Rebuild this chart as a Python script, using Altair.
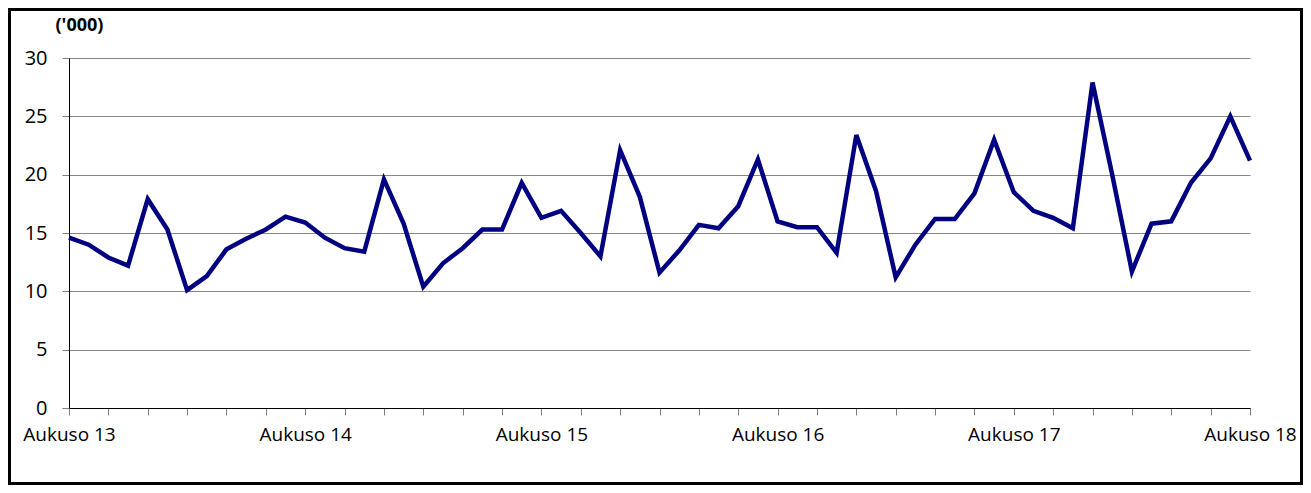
import altair as alt
import pandas as pd
import json

# Monthly values ('000), Aug 2013 .. Aug 2018
values = [14.6, 14.0, 12.9, 12.2, 17.9, 15.3, 10.1, 11.3, 13.6, 14.5,
          15.3, 16.4, 15.9, 14.6, 13.7, 13.4, 19.6, 15.8, 10.4, 12.4,
          13.7, 15.3, 15.3, 19.3, 16.3, 16.9, 15.0, 13.0, 22.1, 18.1,
          11.6, 13.5, 15.7, 15.4, 17.3, 21.3, 16.0, 15.5, 15.5, 13.3,
          23.4, 18.6, 11.2, 14.0, 16.2, 16.2, 18.4, 23.0, 18.5, 16.9,
          16.3, 15.4, 27.9, 20.0, 11.7, 15.8, 16.0, 19.3, 21.4, 25.0,
          21.2]
month_index = list(range(len(values)))
x_tick_labels = ["Aukuso 13", "Aukuso 14", "Aukuso 15", "Aukuso 16", "Aukuso 17", "Aukuso 18"]
x_tick_values = list(range(0, 61, 2))
y_tick_values = [0, 5, 10, 15, 20, 25, 30]
y_title = "('000)"

df = pd.DataFrame({"m": month_index, "v": values})

FONT = "Open Sans"
W, H = 1181, 350
PAD_L, PAD_T = 61, 50
TOT_W, TOT_H = 1295, 477

label_expr = ("datum.value % 12 == 0 ? " + json.dumps(x_tick_labels)
              + "[datum.value / 12] : ''")

line = alt.Chart(df).mark_line(color="#000080", strokeWidth=4.5, strokeJoin="miter").encode(
    x=alt.X("m:Q",
            scale=alt.Scale(domain=[0, 60], nice=False, zero=False),
            axis=alt.Axis(values=x_tick_values, labelExpr=label_expr, title=None,
                          grid=False, domainColor="#000000", domainWidth=1,
                          tickColor="#808080", tickSize=7, tickWidth=1,
                          labelFont=FONT, labelFontSize=19, labelColor="#000000",
                          labelPadding=10, labelOverlap=False, labelFlush=False)),
    y=alt.Y("v:Q",
            scale=alt.Scale(domain=[0, 30], nice=False),
            axis=alt.Axis(values=y_tick_values, title=y_title, titleAngle=0,
                          titleX=-14, titleY=-28, titleAlign="left",
                          titleBaseline="alphabetic", titleFont=FONT,
                          titleFontSize=18, titleFontWeight="bold", titleColor="#000000",
                          grid=True, gridColor="#868686", gridWidth=1,
                          domainColor="#000000", domainWidth=1,
                          tickColor="#808080", tickSize=7, tickWidth=1,
                          labelFont=FONT, labelFontSize=20, labelColor="#000000",
                          labelPadding=15)),
)

border = alt.Chart(alt.Data(values=[{"b": 1}])).mark_rect(
    fill=None, stroke="#000000", strokeWidth=3, clip=False
).encode(
    x=alt.value(-PAD_L + 1.5), x2=alt.value(TOT_W - PAD_L - 1.5),
    y=alt.value(-PAD_T + 1.5), y2=alt.value(TOT_H - PAD_T - 1.5),
)

chart = alt.layer(line, border).properties(
    width=W, height=H,
    autosize=alt.AutoSizeParams(type="none"),
    padding={"left": PAD_L, "top": PAD_T, "right": TOT_W - PAD_L - W, "bottom": TOT_H - PAD_T - H},
    background="#ffffff",
).configure_view(stroke=None)

chart.save("out.html", embed_options={"renderer": "svg", "actions": False})
